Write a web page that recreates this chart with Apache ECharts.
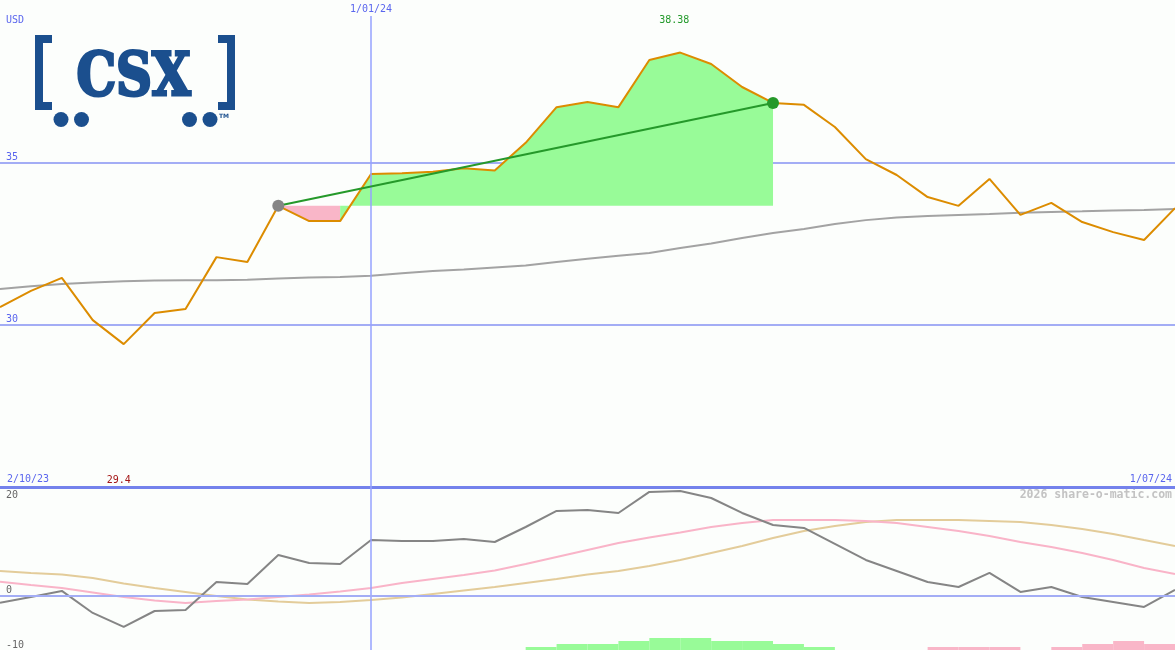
<!DOCTYPE html>
<html><head><meta charset="utf-8">
<script src="https://cdn.jsdelivr.net/npm/echarts@6/dist/echarts.min.js"></script>
<style>html,body{margin:0;padding:0;background:#fcfefc}#c{width:1175px;height:650px}</style>
</head><body><div id="c"></div>
<script>
// ---- categories (weekly) ----
const dates = ['9/10/23','16/10/23','23/10/23','30/10/23','6/11/23','13/11/23','20/11/23','27/11/23','4/12/23','11/12/23','18/12/23','25/12/23','1/01/24','8/01/24','15/01/24','22/01/24','29/01/24','5/02/24','12/02/24','19/02/24','26/02/24','4/03/24','11/03/24','18/03/24','25/03/24','1/04/24','8/04/24','15/04/24','22/04/24','29/04/24','6/05/24','13/05/24','20/05/24','27/05/24','3/06/24','10/06/24','17/06/24','24/06/24','1/07/24'];
// ---- price panel ----
const price = [30.54,31.04,31.44,30.14,29.40,30.36,30.48,32.08,31.93,33.66,33.19,33.19,34.64,34.66,34.71,34.82,34.75,35.60,36.70,36.86,36.70,38.15,38.38,38.03,37.32,36.83,36.77,36.09,35.10,34.61,33.93,33.66,34.49,33.38,33.75,33.16,32.85,32.61,33.59];
const movingAvg = [31.10,31.18,31.25,31.30,31.34,31.36,31.37,31.37,31.38,31.42,31.45,31.47,31.51,31.58,31.65,31.70,31.76,31.82,31.93,32.03,32.12,32.21,32.36,32.50,32.67,32.82,32.95,33.10,33.22,33.30,33.35,33.38,33.41,33.45,33.47,33.49,33.52,33.53,33.56];
const trendStart = 9;
const trendEnd = 25;
const fillSwitch = 11;   // last point of the red (below start) fill segment
const priceTickLabels = [30, 35];
const dateMark = '1/01/24';
const rangeLabels = ['2/10/23', '1/07/24'];
const currencyLabel = 'USD';
const creditLabel = '2026 share-o-matic.com';
// ---- oscillator panel ----
const oscGray = [-1.29,-0.24,0.87,-3.18,-5.76,-2.82,-2.63,2.52,2.15,7.49,6.02,5.83,10.25,10.07,10.07,10.44,9.88,12.64,15.59,15.77,15.22,19.09,19.27,17.98,15.22,13.01,12.46,9.52,6.57,4.55,2.52,1.60,4.18,0.68,1.60,-0.24,-1.16,-2.08,1.05];
const oscPink = [2.58,1.97,1.42,0.59,-0.24,-0.88,-1.34,-0.98,-0.70,-0.24,0.22,0.77,1.42,2.34,3.07,3.81,4.64,5.83,7.12,8.41,9.70,10.71,11.63,12.64,13.38,13.93,13.93,13.93,13.75,13.38,12.64,11.91,10.99,9.88,8.96,7.86,6.57,5.10,3.99];
const oscTan = [4.55,4.18,3.90,3.26,2.25,1.42,0.68,-0.06,-0.70,-1.07,-1.34,-1.16,-0.79,-0.33,0.31,0.96,1.60,2.34,3.07,3.90,4.55,5.47,6.57,7.86,9.15,10.62,11.91,12.83,13.56,13.93,13.93,13.93,13.75,13.56,13.01,12.28,11.36,10.25,9.15];
const oscBottomLabels = [0, -10];
const oscTopLabels = [20];
// histogram, one value per interval between consecutive weeks
const histValues = [0,0,0,0,0,0,0,0,0,0,0,0,0,0,0,0,0,1,2,2,3,4,4,3,3,2,1,0,0,0,-1,-1,-1,0,-1,-2,-3,-2];

const FONT = '"DejaVu Sans Mono", monospace';
const BLUE_TXT = '#5a66ee';
const GRID_BLUE = '#a3adf5';
const LOGO = '#1b4f8e';
const n = dates.length;
const seg = (arr, from, to) => arr.map((v, i) => (i >= from && i <= to) ? v : '-');
const startPrice = price[trendStart];
const trendData = price.map((v, i) => {
  if (i === trendStart) return {value: v, itemStyle: {color: '#858585'}};
  if (i === trendEnd) return {value: v, itemStyle: {color: '#25992a'}};
  return '-';
});
const histData = histValues.map(v => ({value: Math.abs(v), itemStyle: {color: v >= 0 ? '#98fb98' : '#f9b6c8'}}));

const chart = echarts.init(document.getElementById('c'));
const g = (o) => Object.assign({left: 0, right: 0, outerBoundsMode: 'none'}, o);
chart.setOption({
  backgroundColor: '#fcfefc',
  animation: false,
  grid: [g({top: 0, height: 487}), g({top: 487, height: 163}), g({top: 620, height: 30}), g({top: 16, bottom: 0})],
  xAxis: [
    {gridIndex: 0, type: 'category', data: dates, boundaryGap: false, show: false},
    {gridIndex: 1, type: 'category', data: dates, boundaryGap: false, position: 'top',
     axisLine: {show: true, onZero: false, lineStyle: {color: '#7482ec', width: 3}}, axisTick: {show: false}, axisLabel: {show: false}, splitLine: {show: false}},
    {gridIndex: 2, type: 'category', data: dates.slice(0, n - 1), boundaryGap: true, show: false},
    {gridIndex: 3, type: 'category', data: dates, boundaryGap: false, show: false}
  ],
  yAxis: [
    {gridIndex: 0, type: 'value', min: 25, max: 40, interval: 5, axisLine: {show: false}, axisTick: {show: false},
     splitLine: {show: true, showMinLine: false, showMaxLine: false, lineStyle: {color: GRID_BLUE, width: 2}},
     axisLabel: {inside: true, margin: 6, verticalAlign: 'bottom', color: BLUE_TXT, fontFamily: FONT, fontSize: 10,
       formatter: v => priceTickLabels.includes(v) ? String(v) : ''}},
    {gridIndex: 1, type: 'value', min: -10, max: 20, interval: 10, axisLine: {show: false}, axisTick: {show: false}, splitLine: {show: false},
     axisLabel: {inside: true, margin: 6, verticalAlign: 'bottom', color: '#666', fontFamily: FONT, fontSize: 10, showMinLabel: true,
       formatter: v => oscBottomLabels.includes(v) ? String(v) : ''}},
    {gridIndex: 1, type: 'value', position: 'left', min: -10, max: 20, interval: 10, axisLine: {show: false}, axisTick: {show: false}, splitLine: {show: false},
     axisLabel: {inside: true, margin: 6, verticalAlign: 'top', padding: [3, 0, 0, 0], color: '#666', fontFamily: FONT, fontSize: 10, showMaxLabel: true,
       formatter: v => oscTopLabels.includes(v) ? String(v) : ''}},
    {gridIndex: 2, type: 'value', min: 0, max: 10, show: false},
    {gridIndex: 3, type: 'value', min: 0, max: 1, show: false}
  ],
  series: [
    {type: 'line', xAxisIndex: 3, yAxisIndex: 4, z: 1, data: dates.map(() => '-'), silent: true,
     markLine: {silent: true, symbol: 'none', data: [{xAxis: dateMark}],
       lineStyle: {color: '#96a2ff', width: 1.5, type: 'solid', opacity: 1},
       label: {show: true, position: 'end', distance: 2, formatter: () => dateMark, color: BLUE_TXT, fontFamily: FONT, fontSize: 10}}},
    {type: 'line', name: 'below', xAxisIndex: 0, yAxisIndex: 0, z: 2, data: seg(price, trendStart, fillSwitch), showSymbol: false, silent: true,
     lineStyle: {opacity: 0}, areaStyle: {color: '#f9b6c8', opacity: 1, origin: startPrice}},
    {type: 'line', name: 'above', xAxisIndex: 0, yAxisIndex: 0, z: 2, data: seg(price, fillSwitch, trendEnd), showSymbol: false, silent: true,
     lineStyle: {opacity: 0}, areaStyle: {color: '#98fb98', opacity: 1, origin: startPrice}},
    {type: 'line', name: 'MA', xAxisIndex: 0, yAxisIndex: 0, z: 3, data: movingAvg, showSymbol: false, silent: true,
     lineStyle: {color: '#a3a3a3', width: 2}},
    {type: 'line', name: 'price', xAxisIndex: 0, yAxisIndex: 0, z: 4, data: price, showSymbol: false, silent: true,
     lineStyle: {color: '#dc8c00', width: 2},
     markPoint: {silent: true, symbol: 'circle', symbolSize: 1, itemStyle: {color: 'rgba(0,0,0,0)'},
       data: [
         {type: 'max', label: {show: true, offset: [-6, -32], color: '#22992a', fontFamily: FONT, fontSize: 10, formatter: p => String(p.value)}},
         {type: 'min', label: {show: true, offset: [-5, 136], color: '#a31515', fontFamily: FONT, fontSize: 10, formatter: p => String(p.value)}}
       ]}},
    {type: 'line', name: 'trend', xAxisIndex: 0, yAxisIndex: 0, z: 5, data: trendData, connectNulls: true, showSymbol: true,
     symbol: 'circle', symbolSize: 12, silent: true, lineStyle: {color: '#25992a', width: 2}},
    {type: 'bar', xAxisIndex: 2, yAxisIndex: 3, z: 2, data: histData, barCategoryGap: '0%', barWidth: '100%', silent: true},
    {type: 'line', name: 'tan', xAxisIndex: 1, yAxisIndex: 1, z: 3, data: oscTan, showSymbol: false, silent: true,
     lineStyle: {color: '#e3cc9a', width: 2}},
    {type: 'line', name: 'pink', xAxisIndex: 1, yAxisIndex: 1, z: 3, data: oscPink, showSymbol: false, silent: true,
     lineStyle: {color: '#f9b4c8', width: 2}},
    {type: 'line', name: 'osc', xAxisIndex: 1, yAxisIndex: 1, z: 4, data: oscGray, showSymbol: false, silent: true,
     lineStyle: {color: '#858585', width: 2},
     markLine: {silent: true, symbol: 'none', data: [{yAxis: 0}], label: {show: false}, lineStyle: {color: GRID_BLUE, width: 2, type: 'solid'}}}
  ],
  graphic: [
    {type: 'text', left: 6, top: 15, style: {text: currencyLabel, fill: BLUE_TXT, font: '10px ' + FONT}},
    {type: 'text', left: 7, top: 474, style: {text: rangeLabels[0], fill: BLUE_TXT, font: '10px ' + FONT}},
    {type: 'text', right: 3, top: 474, style: {text: rangeLabels[1], fill: BLUE_TXT, font: '10px ' + FONT}},
    {type: 'text', right: 3, top: 489, style: {text: creditLabel, fill: '#c3c3c3', font: 'bold 11.5px ' + FONT}},
    // logo
    {type: 'rect', shape: {x: 35, y: 35, width: 8, height: 75}, style: {fill: LOGO}},
    {type: 'rect', shape: {x: 35, y: 35, width: 17, height: 8}, style: {fill: LOGO}},
    {type: 'rect', shape: {x: 35, y: 102, width: 17, height: 8}, style: {fill: LOGO}},
    {type: 'rect', shape: {x: 227, y: 35, width: 8, height: 75}, style: {fill: LOGO}},
    {type: 'rect', shape: {x: 218, y: 35, width: 17, height: 8}, style: {fill: LOGO}},
    {type: 'rect', shape: {x: 218, y: 102, width: 17, height: 8}, style: {fill: LOGO}},
    {type: 'circle', shape: {cx: 61, cy: 119.5, r: 7.5}, style: {fill: LOGO}},
    {type: 'circle', shape: {cx: 81.5, cy: 119.5, r: 7.5}, style: {fill: LOGO}},
    {type: 'circle', shape: {cx: 189.5, cy: 119.5, r: 7.5}, style: {fill: LOGO}},
    {type: 'circle', shape: {cx: 210, cy: 119.5, r: 7.5}, style: {fill: LOGO}},
    {type: 'text', x: 133.5, y: 79, scaleX: 0.83, style: {text: 'CSX', fill: LOGO, stroke: LOGO, lineWidth: 3, font: 'bold 60px "DejaVu Serif"', textAlign: 'center', textVerticalAlign: 'middle', verticalAlign: 'middle'}},
    {type: 'text', x: 219, y: 113, style: {text: 'TM', fill: LOGO, font: 'bold 6px "DejaVu Sans"'}}
  ]
});
</script>
</body></html>
